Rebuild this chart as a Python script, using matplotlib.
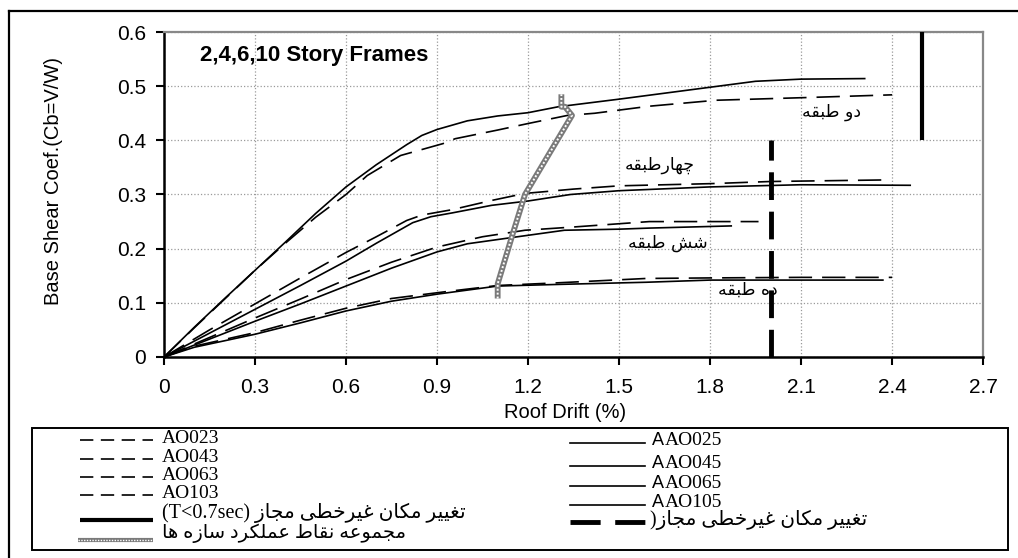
import matplotlib
matplotlib.use("Agg")
import matplotlib.pyplot as plt
from matplotlib.lines import Line2D
from matplotlib.patches import Rectangle

plt.rcParams['font.family'] = ['Liberation Sans', 'DejaVu Sans']

# pushover curves, roof drift (%) vs base shear coefficient
# dashed series
ao023_x = [0, 0.1, 0.2, 0.3, 0.4, 0.5, 0.6, 0.67, 0.78, 0.92, 0.96, 1.1, 1.2, 1.33, 1.42, 1.6, 1.82, 2.12, 2.4]
ao023_y = [0, 0.054, 0.107, 0.16, 0.21, 0.258, 0.30, 0.335, 0.372, 0.394, 0.403, 0.419, 0.431, 0.446, 0.45, 0.463, 0.474, 0.479, 0.484]
ao043_x = [0, 0.15, 0.3, 0.45, 0.6, 0.7, 0.8, 0.85, 0.95, 1.08, 1.19, 1.35, 1.5, 1.8, 2.0, 2.39]
ao043_y = [0, 0.05, 0.098, 0.146, 0.193, 0.222, 0.252, 0.262, 0.272, 0.289, 0.302, 0.31, 0.316, 0.32, 0.324, 0.327]
ao063_x = [0, 0.15, 0.3, 0.45, 0.6, 0.75, 0.9, 1.05, 1.19, 1.35, 1.6, 1.96]
ao063_y = [0, 0.036, 0.072, 0.107, 0.143, 0.175, 0.203, 0.222, 0.234, 0.24, 0.25, 0.25]
ao103_x = [0, 0.1, 0.3, 0.45, 0.6, 0.75, 0.92, 1.1, 1.3, 1.59, 1.8, 2.1, 2.4]
ao103_y = [0, 0.02, 0.045, 0.068, 0.09, 0.108, 0.12, 0.132, 0.137, 0.145, 0.146, 0.147, 0.147]

# solid series
aao025_x = [0, 0.1, 0.2, 0.3, 0.4, 0.5, 0.6, 0.7, 0.8, 0.85, 0.9, 1.0, 1.1, 1.2, 1.3, 1.5, 1.8, 1.95, 2.1, 2.31]
aao025_y = [0, 0.055, 0.108, 0.16, 0.212, 0.265, 0.314, 0.355, 0.392, 0.409, 0.42, 0.436, 0.445, 0.451, 0.462, 0.476, 0.498, 0.509, 0.513, 0.514]
aao045_x = [0, 0.15, 0.3, 0.45, 0.6, 0.7, 0.82, 0.88, 0.95, 1.08, 1.2, 1.34, 1.5, 1.8, 2.1, 2.46]
aao045_y = [0, 0.044, 0.088, 0.132, 0.177, 0.21, 0.248, 0.259, 0.266, 0.28, 0.288, 0.30, 0.307, 0.314, 0.318, 0.317]
aao065_x = [0, 0.15, 0.3, 0.45, 0.6, 0.75, 0.9, 1.0, 1.14, 1.32, 1.5, 1.6, 1.87]
aao065_y = [0, 0.033, 0.066, 0.098, 0.131, 0.164, 0.194, 0.209, 0.22, 0.234, 0.236, 0.238, 0.242]
aao105_x = [0, 0.1, 0.3, 0.45, 0.6, 0.75, 0.9, 1.1, 1.3, 1.59, 1.8, 2.1, 2.37]
aao105_y = [0, 0.018, 0.042, 0.063, 0.085, 0.103, 0.116, 0.131, 0.134, 0.138, 0.142, 0.142, 0.142]

dashed_names = ["AO023", "AO043", "AO063", "AO103"]
solid_names = ["AAO025", "AAO045", "AAO065", "AAO105"]

# performance points of the frames
perf_x = [1.1, 1.1, 1.15, 1.19, 1.345, 1.322, 1.31, 1.31]
perf_y = [0.108, 0.135, 0.228, 0.30, 0.446, 0.462, 0.462, 0.485]

# allowable drift limits
limit_long_x = [2.5, 2.5]
limit_long_y = [0.4, 0.6]
limit_short_x = [2.0, 2.0]
limit_short_y = [0, 0.4]

x_ticks = [0, 0.3, 0.6, 0.9, 1.2, 1.5, 1.8, 2.1, 2.4, 2.7]
x_tick_labels = ["0", "0.3", "0.6", "0.9", "1.2", "1.5", "1.8", "2.1", "2.4", "2.7"]
y_ticks = [0, 0.1, 0.2, 0.3, 0.4, 0.5, 0.6]
y_tick_labels = ["0", "0.1", "0.2", "0.3", "0.4", "0.5", "0.6"]

story_labels = ["دو طبقه", "چهارطبقه", "شش طبقه", "ده طبقه"]
story_label_x = [2.2, 1.635, 1.662, 1.925]
story_label_y = [0.453, 0.354, 0.211, 0.124]

limit_label = "تغییر مکان غیرخطی مجاز"
perf_label = "مجموعه نقاط عملکرد سازه ها"

# contextual forms: isolated, final, initial, medial
FORMS = {
    'ا': ('\uFE8D', '\uFE8E', None, None),
    'ب': ('\uFE8F', '\uFE90', '\uFE91', '\uFE92'),
    'ت': ('\uFE95', '\uFE96', '\uFE97', '\uFE98'),
    'ج': ('\uFE9D', '\uFE9E', '\uFE9F', '\uFEA0'),
    'چ': ('\uFB7A', '\uFB7B', '\uFB7C', '\uFB7D'),
    'خ': ('\uFEA5', '\uFEA6', '\uFEA7', '\uFEA8'),
    'د': ('\uFEA9', '\uFEAA', None, None),
    'ر': ('\uFEAD', '\uFEAE', None, None),
    'ز': ('\uFEAF', '\uFEB0', None, None),
    'س': ('\uFEB1', '\uFEB2', '\uFEB3', '\uFEB4'),
    'ش': ('\uFEB5', '\uFEB6', '\uFEB7', '\uFEB8'),
    'ط': ('\uFEC1', '\uFEC2', '\uFEC3', '\uFEC4'),
    'ع': ('\uFEC9', '\uFECA', '\uFECB', '\uFECC'),
    'غ': ('\uFECD', '\uFECE', '\uFECF', '\uFED0'),
    'ق': ('\uFED5', '\uFED6', '\uFED7', '\uFED8'),
    'ک': ('\uFB8E', '\uFB8F', '\uFB90', '\uFB91'),
    'ل': ('\uFEDD', '\uFEDE', '\uFEDF', '\uFEE0'),
    'م': ('\uFEE1', '\uFEE2', '\uFEE3', '\uFEE4'),
    'ن': ('\uFEE5', '\uFEE6', '\uFEE7', '\uFEE8'),
    'ه': ('\uFEE9', '\uFEEA', '\uFEEB', '\uFEEC'),
    'و': ('\uFEED', '\uFEEE', None, None),
    'ی': ('\uFBFC', '\uFBFD', '\uFBFE', '\uFBFF'),
}


def fa(text):
    # join persian letters and put them in display order (right to left)
    out = []
    for i, ch in enumerate(text):
        if ch not in FORMS:
            out.append(ch)
            continue
        iso, fin, ini, med = FORMS[ch]
        prev = text[i - 1] if i > 0 else ''
        nxt = text[i + 1] if i + 1 < len(text) else ''
        join_prev = prev in FORMS and FORMS[prev][2] is not None
        join_next = nxt in FORMS and ini is not None
        if join_prev and join_next:
            out.append(med)
        elif join_prev:
            out.append(fin)
        elif join_next:
            out.append(ini)
        else:
            out.append(iso)
    return ''.join(reversed(out))


W, H = 1018, 558
fig = plt.figure(figsize=(W / 100, H / 100), dpi=100)
ax = fig.add_axes([164 / W, 1 - 357 / H, (983 - 164) / W, (357 - 32) / H])

dash = (0, (14, 6))
lw = 1.2
for xs, ys in [(ao023_x, ao023_y), (ao043_x, ao043_y), (ao063_x, ao063_y), (ao103_x, ao103_y)]:
    ax.plot(xs, ys, color='black', lw=lw, linestyle=dash, zorder=4)
for xs, ys in [(aao025_x, aao025_y), (aao045_x, aao045_y), (aao065_x, aao065_y), (aao105_x, aao105_y)]:
    ax.plot(xs, ys, color='black', lw=lw, zorder=4)

# performance points, drawn as a hatched band
ax.plot(perf_x, perf_y, color='#7a7a7a', lw=4.2, solid_capstyle='butt', zorder=5)
ax.plot(perf_x, perf_y, color='white', lw=1.4, linestyle=(0, (1, 1)), zorder=6)

ax.plot(limit_long_x, limit_long_y, color='black', lw=3, solid_capstyle='butt', zorder=5)
ax.plot(limit_short_x, limit_short_y, color='black', lw=3.5, linestyle=(0, (5.7, 2.4)), zorder=5)

for lab, tx, ty in zip(story_labels, story_label_x, story_label_y):
    ax.text(tx, ty, fa(lab), ha='center', va='center', fontsize=12.5, family='DejaVu Sans', zorder=3)

ax.text(0.12, 0.556, "2,4,6,10 Story Frames", fontsize=16, fontweight='bold', va='center', zorder=3)

ax.set_xlim(0, 2.7)
ax.set_ylim(0, 0.6)
ax.set_xticks(x_ticks)
ax.set_xticklabels(x_tick_labels)
ax.set_yticks(y_ticks)
ax.set_yticklabels(y_tick_labels)
ax.grid(True, color='#9a9a9a', linestyle=':', linewidth=0.9)
ax.set_axisbelow(True)
ax.tick_params(axis='both', direction='out', length=6, width=1.5, labelsize=15)
ax.tick_params(axis='x', pad=9)
ax.tick_params(axis='y', pad=7)
for side in ['left', 'bottom']:
    ax.spines[side].set_linewidth(1.8)
    ax.spines[side].set_color('black')
for side in ['top', 'right']:
    ax.spines[side].set_linewidth(1.6)
    ax.spines[side].set_color('#888888')

ax.set_xlabel("Roof Drift (%)", fontsize=14.5)
ax.xaxis.label.set_va('center')
ax.xaxis.set_label_coords(0.49, -0.172)
ax.set_ylabel("Base Shear Coef.(Cb=V/W)", fontsize=14.5)
ax.yaxis.label.set_va('center')
ax.yaxis.set_label_coords(-0.1355, 0.5415)


def fx(px):
    return px / W


def fy(py):
    return 1 - py / H


# outer frame and legend box
fig.add_artist(Line2D([fx(9), 1], [fy(11), fy(11)], color='black', lw=1.6))
fig.add_artist(Line2D([fx(9), fx(9)], [0, fy(11)], color='black', lw=1.6))
fig.add_artist(Rectangle((fx(32), fy(550)), fx(1008 - 32), (550 - 428) / H,
                         fill=False, ec='black', lw=1.4))

serif = ['Liberation Serif', 'DejaVu Sans']
leg_size = 14

# left column
left_base = [443, 462, 480, 498]
for name, yb in zip(dashed_names, left_base):
    fig.add_artist(Line2D([fx(80), fx(153)], [fy(yb - 3), fy(yb - 3)], color='black', lw=lw, linestyle=(0, (8, 4.5))))
    fig.text(fx(162), fy(yb), name, family=serif, fontsize=leg_size, va='baseline')
fig.add_artist(Line2D([fx(80), fx(153)], [fy(520), fy(520)], color='black', lw=3, solid_capstyle='butt'))
fig.text(fx(162), fy(518), "(T<0.7sec) " + fa(limit_label), family=serif, fontsize=leg_size + 0.5, va='baseline')
fig.add_artist(Line2D([fx(78), fx(153)], [fy(540), fy(540)], color='#7a7a7a', lw=3, solid_capstyle='butt'))
fig.add_artist(Line2D([fx(78), fx(153)], [fy(540), fy(540)], color='white', lw=1, linestyle=(0, (1, 1))))
fig.text(fx(162), fy(538), fa(perf_label), family=serif, fontsize=leg_size, va='baseline')

# right column
right_base = [445, 468, 488, 507]
for name, yb in zip(solid_names, right_base):
    fig.add_artist(Line2D([fx(570), fx(645)], [fy(yb - 2), fy(yb - 2)], color='black', lw=lw))
    fig.text(fx(652), fy(yb), name[0], family='Liberation Sans', fontsize=leg_size - 1, va='baseline')
    fig.text(fx(665), fy(yb), name[1:], family=serif, fontsize=leg_size, va='baseline')
fig.add_artist(Line2D([fx(570), fx(645)], [fy(522), fy(522)], color='black', lw=3.5,
                      linestyle=(0, (6.2, 3)), solid_capstyle='butt', dash_capstyle='butt'))
fig.text(fx(650), fy(525), ")" + fa(limit_label), family=serif, fontsize=leg_size + 0.5, va='baseline')

fig.savefig("out.png", dpi=100)
